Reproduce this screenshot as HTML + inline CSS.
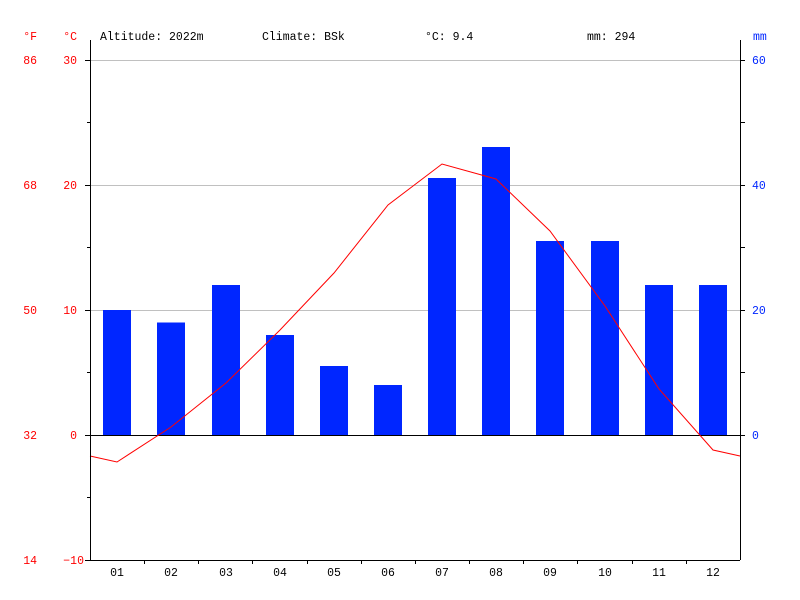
<!DOCTYPE html>
<html><head><meta charset="utf-8"><style>html,body{margin:0;padding:0;background:#fff}svg{display:block}text{font-family:"Liberation Mono","DejaVu Sans Mono",monospace;font-size:11.5px}</style></head><body>
<svg width="800" height="600" viewBox="0 0 800 600" xmlns="http://www.w3.org/2000/svg">
<rect width="800" height="600" fill="#fff"/>
<g stroke="#c0c0c0" stroke-width="1">
<line x1="90" y1="60.5" x2="740" y2="60.5"/><line x1="90" y1="185.5" x2="740" y2="185.5"/><line x1="90" y1="310.5" x2="740" y2="310.5"/>
</g>
<g fill="#0026ff">
<rect x="103" y="310" width="28" height="125"/>
<rect x="157" y="322.5" width="28" height="112.5"/>
<rect x="212" y="285" width="28" height="150"/>
<rect x="266" y="335" width="28" height="100"/>
<rect x="320" y="366" width="28" height="69"/>
<rect x="374" y="385" width="28" height="50"/>
<rect x="428" y="178" width="28" height="257"/>
<rect x="482" y="147" width="28" height="288"/>
<rect x="536" y="241" width="28" height="194"/>
<rect x="591" y="241" width="28" height="194"/>
<rect x="645" y="285" width="28" height="150"/>
<rect x="699" y="285" width="28" height="150"/>
</g>
<line x1="90" y1="435.5" x2="740" y2="435.5" stroke="#000"/>
<polyline fill="none" stroke="#ff0000" stroke-width="1" points="90,456 117,462 171,427 226,383 280,330 334,273 388,205 442,164 496,179 550,231 605,306 659,389 713,450 740,456"/>
<g stroke="#000" stroke-width="1">
<line x1="90.5" y1="40" x2="90.5" y2="560"/><line x1="740.5" y1="40" x2="740.5" y2="560"/>
<line x1="90" y1="560.5" x2="740" y2="560.5"/>
<line x1="85" y1="60.5" x2="90" y2="60.5"/><line x1="87" y1="122.5" x2="90" y2="122.5"/><line x1="85" y1="185.5" x2="90" y2="185.5"/><line x1="87" y1="247.5" x2="90" y2="247.5"/><line x1="85" y1="310.5" x2="90" y2="310.5"/><line x1="87" y1="372.5" x2="90" y2="372.5"/><line x1="85" y1="435.5" x2="90" y2="435.5"/><line x1="87" y1="497.5" x2="90" y2="497.5"/><line x1="85" y1="560.5" x2="90" y2="560.5"/>
<line x1="740" y1="60.5" x2="745" y2="60.5"/><line x1="740" y1="122.5" x2="745" y2="122.5"/><line x1="740" y1="185.5" x2="745" y2="185.5"/><line x1="740" y1="247.5" x2="745" y2="247.5"/><line x1="740" y1="310.5" x2="745" y2="310.5"/><line x1="740" y1="372.5" x2="745" y2="372.5"/><line x1="740" y1="435.5" x2="745" y2="435.5"/>
<line x1="144.5" y1="560" x2="144.5" y2="564"/><line x1="198.5" y1="560" x2="198.5" y2="564"/><line x1="252.5" y1="560" x2="252.5" y2="564"/><line x1="307.5" y1="560" x2="307.5" y2="564"/><line x1="361.5" y1="560" x2="361.5" y2="564"/><line x1="415.5" y1="560" x2="415.5" y2="564"/><line x1="469.5" y1="560" x2="469.5" y2="564"/><line x1="523.5" y1="560" x2="523.5" y2="564"/><line x1="577.5" y1="560" x2="577.5" y2="564"/><line x1="632.5" y1="560" x2="632.5" y2="564"/><line x1="686.5" y1="560" x2="686.5" y2="564"/>
</g>
<g fill="#ff0000" text-anchor="end">
<text x="37" y="40">°F</text><text x="77" y="40">°C</text>
<text x="37" y="64">86</text><text x="37" y="189">68</text><text x="37" y="314">50</text><text x="37" y="439">32</text><text x="37" y="564">14</text>
<text x="77" y="64">30</text><text x="77" y="189">20</text><text x="77" y="314">10</text><text x="77" y="439">0</text><text x="84" y="564">−10</text>
</g>
<g fill="#0026ff">
<text x="753" y="40">mm</text>
<text x="752" y="64">60</text><text x="752" y="189">40</text><text x="752" y="314">20</text><text x="752" y="439">0</text>
</g>
<g fill="#000">
<text x="100" y="40">Altitude: 2022m</text><text x="262" y="40">Climate: BSk</text><text x="425" y="40">°C: 9.4</text><text x="587" y="40">mm: 294</text>
</g>
<g fill="#000" text-anchor="middle">
<text x="117" y="576">01</text><text x="171" y="576">02</text><text x="226" y="576">03</text><text x="280" y="576">04</text><text x="334" y="576">05</text><text x="388" y="576">06</text><text x="442" y="576">07</text><text x="496" y="576">08</text><text x="550" y="576">09</text><text x="605" y="576">10</text><text x="659" y="576">11</text><text x="713" y="576">12</text>
</g>
</svg>
</body></html>
